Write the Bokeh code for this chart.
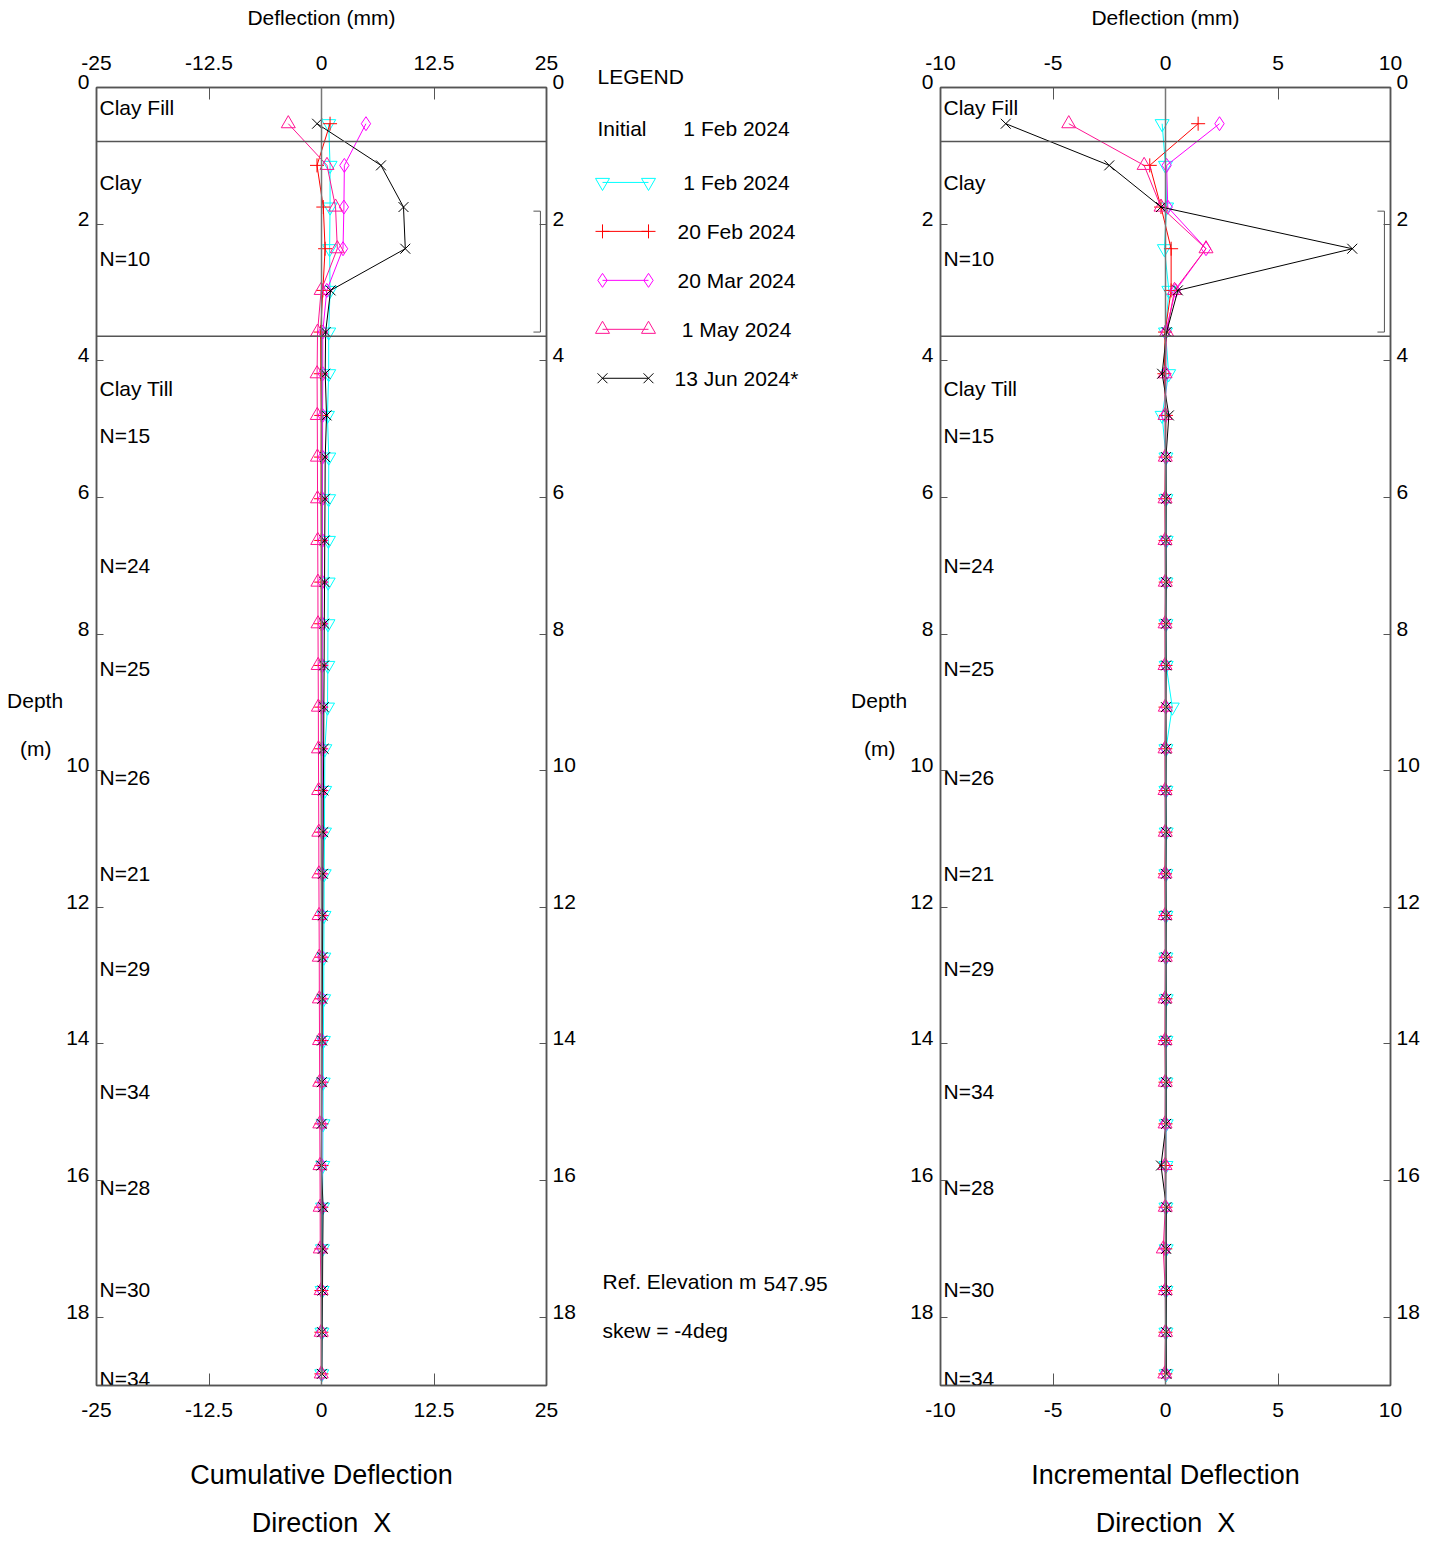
from bokeh.plotting import figure
from bokeh.models import (Range1d, LinearAxis, FixedTicker, Span, Title,
                          NumeralTickFormatter)
from bokeh.layouts import row
from bokeh.embed import file_html
from bokeh.resources import INLINE
from bokeh.core.properties import value

FONT = "Liberation Sans"
FRAME = "#555555"
NB = "\u00a0"

# ---------------- data ----------------
depth_m = [0.53, 1.14, 1.75, 2.36, 2.97, 3.58, 4.19, 4.80, 5.41, 6.02, 6.63,
           7.24, 7.85, 8.46, 9.07, 9.68, 10.29, 10.90, 11.51, 12.12, 12.73,
           13.34, 13.95, 14.56, 15.17, 15.78, 16.39, 17.00, 17.61, 18.22, 18.83]

series_names = ["1 Feb 2024", "20 Feb 2024", "20 Mar 2024", "1 May 2024", "13 Jun 2024*"]
initial_date = "1 Feb 2024"

# cumulative deflection (mm)
cum_01feb = [0.80, 0.95, 0.95, 0.90, 0.95, 0.80, 0.80, 0.66, 0.81, 0.79, 0.77, 0.74, 0.72, 0.70, 0.67,
             0.37, 0.35, 0.33, 0.30, 0.28, 0.26, 0.24, 0.21, 0.19, 0.17, 0.14, 0.12, 0.10, 0.07, 0.05, 0.03]
cum_20feb = [0.95, -0.50, 0.20, 0.40, 0.15, -0.10, -0.08, -0.03, -0.05, -0.05, -0.03, -0.03, -0.04, -0.03, -0.03,
             -0.03, -0.02, -0.02, -0.02, 0.00, 0.00, -0.01, -0.01, 0.00, 0.00, 0.00, -0.02, -0.02, -0.01, -0.01, -0.01]
cum_20mar = [4.94, 2.54, 2.49, 2.39, 0.59, 0.14, 0.14, 0.12, 0.12, 0.11, 0.11, 0.10, 0.10, 0.09, 0.09,
             0.08, 0.08, 0.07, 0.07, 0.06, 0.06, 0.05, 0.05, 0.04, 0.04, 0.03, 0.03, 0.02, 0.02, 0.01, 0.01]
cum_01may = [-3.69, 0.61, 1.56, 1.76, -0.04, -0.44, -0.49, -0.47, -0.45, -0.44, -0.42, -0.40, -0.39, -0.37, -0.35,
             -0.34, -0.32, -0.30, -0.29, -0.27, -0.25, -0.24, -0.22, -0.20, -0.19, -0.17, -0.15, -0.14, -0.04, -0.03, -0.03]
cum_13jun = [-0.49, 6.61, 9.11, 9.31, 1.01, 0.46, 0.41, 0.56, 0.41, 0.39, 0.36, 0.34, 0.31, 0.29, 0.26,
             0.24, 0.21, 0.19, 0.16, 0.14, 0.11, 0.09, 0.06, 0.04, 0.01, -0.02, 0.18, 0.14, 0.11, 0.07, 0.04]

# incremental deflection (mm)
inc_01feb = [-0.15, 0.00, 0.05, -0.05, 0.15, 0.00, 0.14, -0.15, 0.02, 0.02, 0.03, 0.02, 0.02, 0.03, 0.30,
             0.02, 0.02, 0.03, 0.02, 0.02, 0.02, 0.03, 0.02, 0.02, 0.03, 0.02, 0.02, 0.03, 0.02, 0.02, 0.03]
inc_20feb = [1.45, -0.70, -0.20, 0.25, 0.25, -0.02, -0.05, 0.02, 0.00, -0.02, 0.00, 0.01, -0.01, 0.00, 0.00,
             -0.01, 0.00, 0.00, -0.02, 0.00, 0.01, 0.00, -0.01, 0.00, 0.00, 0.02, 0.00, -0.01, 0.00, 0.00, -0.01]
inc_20mar = [2.40, 0.05, 0.10, 1.80, 0.45, 0.00, 0.02, 0.00, 0.01, 0.00, 0.01, 0.00, 0.01, 0.00, 0.01,
             0.00, 0.01, 0.00, 0.01, 0.00, 0.01, 0.00, 0.01, 0.00, 0.01, 0.00, 0.01, 0.00, 0.01, 0.00, 0.01]
inc_01may = [-4.30, -0.95, -0.20, 1.80, 0.40, 0.05, -0.02, -0.02, -0.01, -0.02, -0.02, -0.01, -0.02, -0.02, -0.01,
             -0.02, -0.02, -0.01, -0.02, -0.02, -0.01, -0.02, -0.02, -0.01, -0.02, -0.02, -0.01, -0.10, -0.01, 0.00, -0.03]
inc_13jun = [-7.10, -2.50, -0.20, 8.30, 0.55, 0.05, -0.15, 0.15, 0.02, 0.03, 0.02, 0.03, 0.02, 0.03, 0.02,
             0.03, 0.02, 0.03, 0.02, 0.03, 0.02, 0.03, 0.02, 0.03, 0.03, -0.20, 0.04, 0.03, 0.04, 0.03, 0.04]

cum_series = [cum_01feb, cum_20feb, cum_20mar, cum_01may, cum_13jun]
inc_series = [inc_01feb, inc_20feb, inc_20mar, inc_01may, inc_13jun]

layer_boundaries_m = [0.79, 3.64]
zone_bracket_m = [1.81, 3.58]
soil_labels = ["Clay Fill", "Clay", "N=10", "Clay Till", "N=15", "N=24", "N=25",
               "N=26", "N=21", "N=29", "N=34", "N=28", "N=30", "N=34"]
soil_label_depths = [0.29, 1.39, 2.5, 4.4, 5.1, 7.0, 8.5, 10.1, 11.5, 12.9, 14.7, 16.1, 17.6, 18.9]

cum_ticks = [-25, -12.5, 0, 12.5, 25]
inc_ticks = [-10, -5, 0, 5, 10]
depth_ticks = [0, 2, 4, 6, 8, 10, 12, 14, 16, 18]
depth_max = 19

colors = ["#00FFFF", "#FF0000", "#FF00FF", "#FF1493", "#000000"]
markers = ["inverted_triangle", "cross", "diamond", "triangle", "x"]
MSIZE = 14

H = 1541
TOP_B = 87
FRAME_H = 1299
BOT_B = H - TOP_B - FRAME_H

# depth labels sit slightly above their ticks (second, blank line lifts them)
depth_label_text = {t: f"{t}\n{NB}" for t in depth_ticks}


def panel(values, ticks, xmin, xmax, width, bl, br, title):
    p = figure(width=width, height=H, x_range=Range1d(xmin, xmax),
               y_range=Range1d(depth_max, 0), output_backend="svg",
               toolbar_location=None, x_axis_location=None, y_axis_location=None,
               min_border_left=bl, min_border_right=br,
               min_border_top=TOP_B, min_border_bottom=BOT_B,
               outline_line_color=FRAME, outline_line_width=1.5,
               background_fill_color="white", border_fill_color="white")
    p.xgrid.grid_line_color = None
    p.ygrid.grid_line_color = None

    common = dict(axis_line_color=FRAME, axis_line_width=1.5,
                  major_tick_line_color=FRAME, major_tick_line_width=1,
                  major_tick_out=0, minor_tick_line_color=None,
                  major_label_text_font=FONT, major_label_text_font_size="21px",
                  major_label_text_color="black",
                  axis_label_text_font=FONT, axis_label_text_font_style="normal",
                  axis_label_text_color="black")
    fmt = NumeralTickFormatter(format="0.[0]")
    p.add_layout(LinearAxis(ticker=FixedTicker(ticks=ticks), formatter=fmt,
                            major_tick_in=12, major_label_standoff=18,
                            axis_label="Deflection (mm)", axis_label_text_font_size="21px",
                            axis_label_standoff=24, **common), "above")
    p.add_layout(LinearAxis(ticker=FixedTicker(ticks=ticks), formatter=fmt,
                            major_tick_in=12, major_label_standoff=17,
                            axis_label=title + "\nDirection" + NB + " X",
                            axis_label_text_font_size="27px", axis_label_text_line_height=1.62,
                            axis_label_standoff=40, **common), "below")
    p.add_layout(LinearAxis(ticker=FixedTicker(ticks=depth_ticks),
                            major_label_overrides=depth_label_text,
                            major_label_text_line_height=0.52,
                            major_tick_in=7, major_label_standoff=7,
                            axis_label="Depth\n" + NB + "\n(m)" + NB + NB + "\n" + NB,
                            axis_label_orientation="horizontal",
                            axis_label_text_font_size="21px", axis_label_text_line_height=1.04,
                            axis_label_standoff=0, **common), "left")
    p.add_layout(LinearAxis(ticker=FixedTicker(ticks=depth_ticks),
                            major_label_overrides=depth_label_text,
                            major_label_text_line_height=0.52,
                            major_tick_in=7, major_label_standoff=6, **common), "right")

    # zero line and layer boundaries
    p.add_layout(Span(location=0, dimension="height", line_color="#777777", line_width=1.5))
    for d in layer_boundaries_m:
        p.add_layout(Span(location=d, dimension="width", line_color=FRAME, line_width=1.5))

    # bracket marking the zone of interest
    span = xmax - xmin
    bx1 = xmax - span * 0.0135
    bx0 = xmax - span * 0.029
    p.line([bx0, bx1, bx1, bx0], [zone_bracket_m[0], zone_bracket_m[0], zone_bracket_m[1], zone_bracket_m[1]],
           line_color=FRAME, line_width=1)

    # soil layer labels
    p.text(x=[xmin] * len(soil_labels), y=soil_label_depths, text=soil_labels,
           x_offset=3, text_align="left", text_baseline="middle",
           text_font=value(FONT), text_font_size="21px", text_color="black")

    # series
    for vals, c, m in zip(values, colors, markers):
        p.line(vals, depth_m, line_color=c, line_width=1)
        p.scatter(vals, depth_m, marker=m, size=MSIZE, line_color=c, fill_color=None, line_width=1)
    return p


left = panel(cum_series, cum_ticks, -25, 25, 590, 96, 44, "Cumulative Deflection")
right = panel(inc_series, inc_ticks, -10, 10, 596, 100, 46, "Incremental Deflection")

# ---------------- legend / notes panel (page-pixel coordinates) ----------------
X0, W_MID = 590, 250
mid = figure(width=W_MID, height=H, x_range=Range1d(X0, X0 + W_MID),
             y_range=Range1d(TOP_B + FRAME_H, TOP_B),
             output_backend="svg", toolbar_location=None, x_axis_location=None,
             y_axis_location=None, min_border_left=0, min_border_right=0,
             min_border_top=TOP_B, min_border_bottom=BOT_B, outline_line_color=None)
mid.xgrid.grid_line_color = None
mid.ygrid.grid_line_color = None
mid.add_layout(Title(text="LEGEND", align="left", offset=7, standoff=0, text_font=FONT,
                     text_font_size="21px", text_font_style="normal", text_color="black"), "above")

tf = dict(text_font=value(FONT), text_font_size="21px", text_color="black", text_baseline="middle")
mid.text(x=[597], y=[128], text=["Initial"], text_align="left", **tf)
mid.text(x=[736], y=[128], text=[initial_date], text_align="center", **tf)
row_y = [182, 231, 280, 329, 378]
for name, c, m, yy in zip(series_names, colors, markers, row_y):
    mid.line([602, 648], [yy, yy], line_color=c, line_width=1)
    mid.scatter([602, 648], [yy, yy], marker=m, size=MSIZE, line_color=c, fill_color=None)
    mid.text(x=[736], y=[yy], text=[name], text_align="center", **tf)

mid.text(x=[602, 763, 602], y=[1282, 1284, 1331], text=["Ref. Elevation m", "547.95", "skew = -4deg"],
         text_align="left", **tf)

layout = row(left, mid, right, spacing=0)
open("out.html", "w").write(file_html(layout, INLINE))
